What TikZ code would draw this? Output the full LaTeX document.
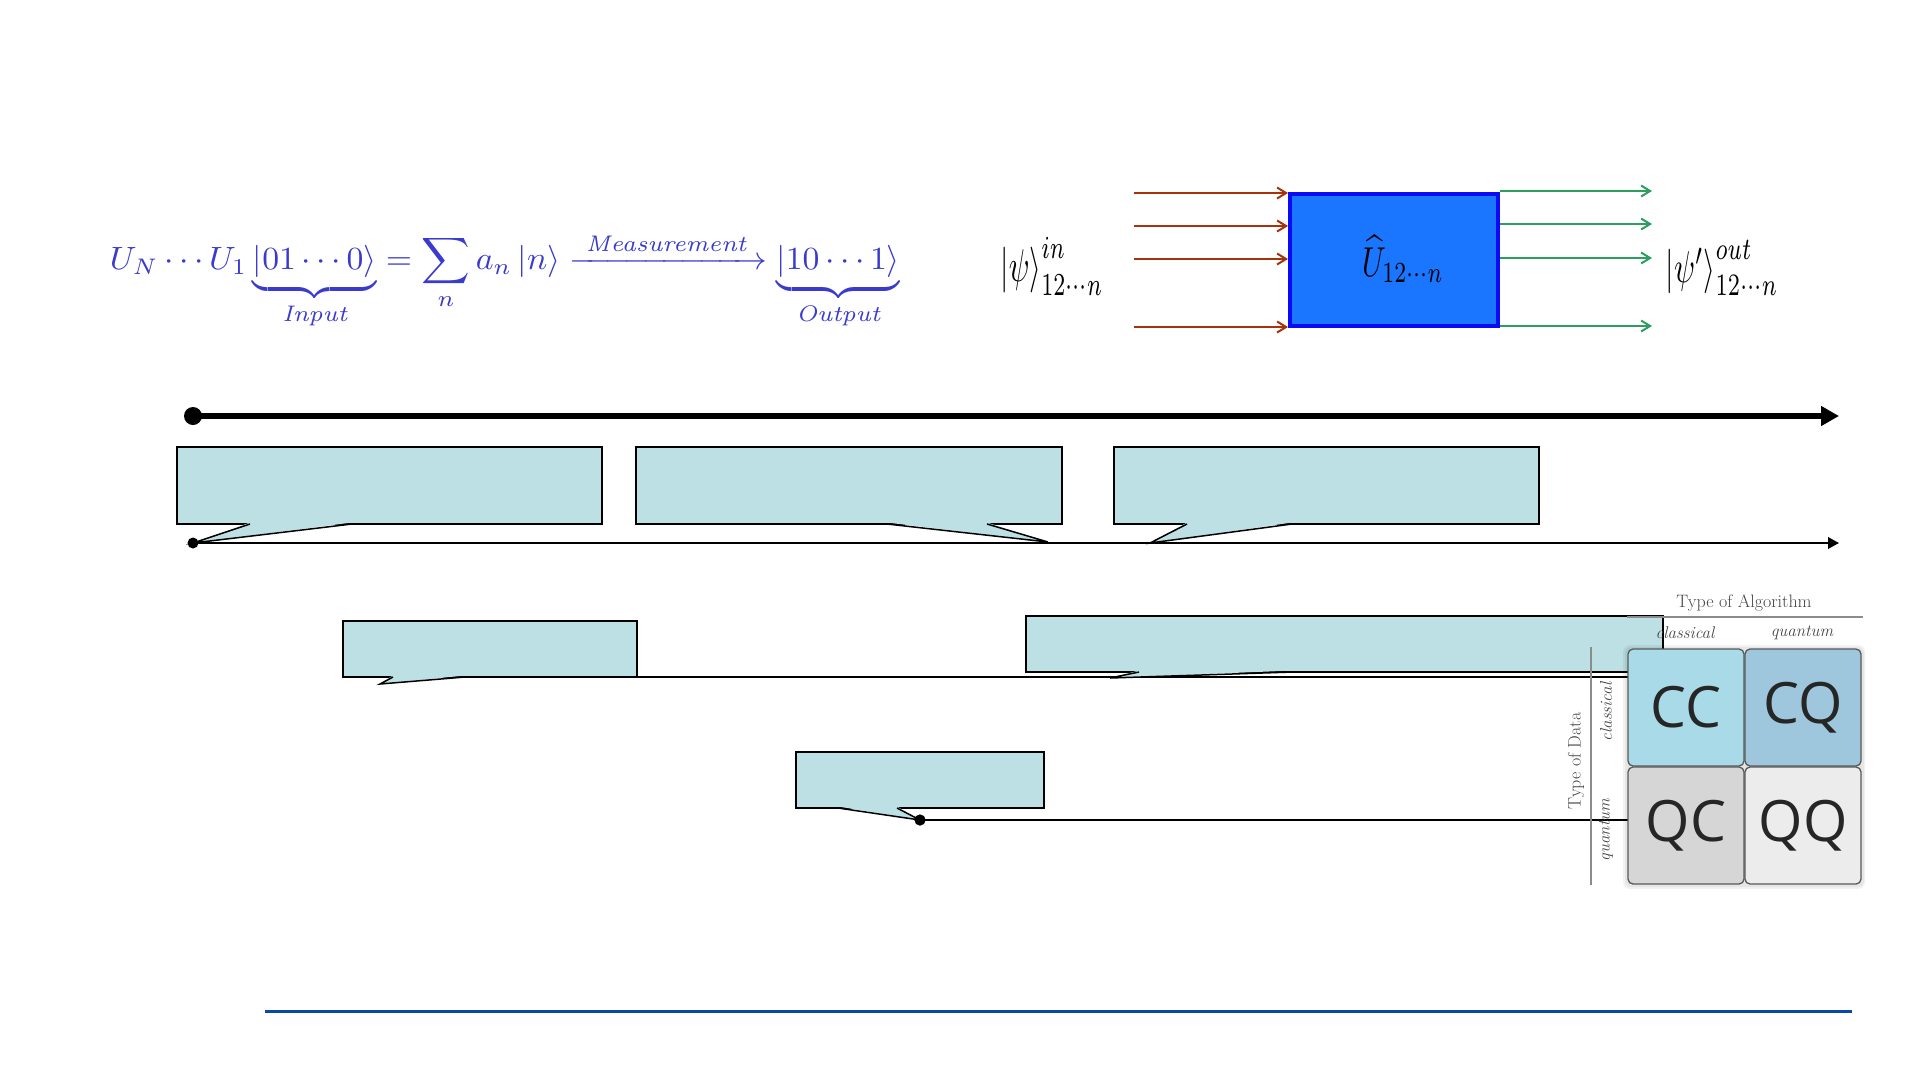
\documentclass[tikz,border=0pt]{standalone}
\usepackage{fontspec}
\usepackage{amsmath}
\usepackage{graphicx}
\usetikzlibrary{arrows.meta}
\newfontfamily\cellfont{Open Sans}
\definecolor{fblue}{RGB}{58,58,205}
\definecolor{ufill}{RGB}{26,117,255}
\definecolor{uedge}{RGB}{10,10,245}
\definecolor{brn}{RGB}{165,52,14}
\definecolor{grn}{RGB}{46,158,96}
\definecolor{callfill}{RGB}{188,224,228}
\definecolor{cellcc}{RGB}{168,218,231}
\definecolor{cellcq}{RGB}{158,198,220}
\definecolor{cellqc}{RGB}{214,214,214}
\definecolor{cellqq}{RGB}{236,236,236}
\definecolor{lineblue}{RGB}{10,72,170}
\definecolor{labgray}{RGB}{70,70,70}
\tikzset{
  calloutbox/.style={draw=black, line width=1.5pt, fill=callfill, inner sep=0pt},
  pointerfill/.style={fill=callfill},
  pointeredge/.style={draw=black, line width=1.5pt, line join=miter},
  thinline/.style={draw=black, line width=2pt},
  brnarrow/.style={draw=brn, line width=2.2pt, -{Straight Barb[length=9pt,width=11pt,line width=2pt]}},
  grnarrow/.style={draw=grn, line width=2.2pt, -{Straight Barb[length=9pt,width=11pt,line width=2pt]}},
  cell/.style={draw=black!65, line width=1.3pt, rounded corners=5pt, minimum width=116pt, minimum height=117pt, inner sep=0pt, text=black!85, font=\cellfont\fontsize{57}{60}\selectfont},
  lab/.style={text=labgray, inner sep=0pt, font=\fontsize{18}{20}\selectfont},
  slab/.style={text=labgray, inner sep=0pt, font=\itshape\fontsize{17}{19}\selectfont},
  grule/.style={draw=black!45, line width=2.5pt},
  dot/.style={circle, fill=black, inner sep=0pt}
}
\begin{document}
\begin{tikzpicture}[x=1pt,y=-1pt]
\useasboundingbox (0,0) rectangle (1921,1080);

% formula
\node[text=fblue, inner sep=0pt] (formula) at (505,281)
 {\resizebox*{790pt}{97pt}{$\displaystyle U_N\cdots U_1\underbrace{\left|01\cdots0\right\rangle}_{\textit{Input}}=\sum_n a_n\left|n\right\rangle\xrightarrow{\;\textit{Measurement}\;}\underbrace{\left|10\cdots1\right\rangle}_{\textit{Output}}$}};

% unitary box
\node[draw=uedge, line width=4pt, fill=ufill, minimum width=208pt, minimum height=132pt, inner sep=0pt] (U) at (1394,260) {};
\node[inner sep=0pt] (Ulab) at (1403,259) {\resizebox*{82pt}{47pt}{$\widehat{U}_{12\cdots n}$}};
\node[inner sep=0pt] (psiin) at (1052,266) {\resizebox*{103pt}{58pt}{$\left|\psi\right\rangle^{in}_{12\cdots n}$}};
\node[inner sep=0pt] (psiout) at (1722,268) {\resizebox*{113pt}{55pt}{$\left|\psi'\right\rangle^{out}_{12\cdots n}$}};

\coordinate (a1) at (1134,193);
\coordinate (a2) at (1134,226);
\coordinate (a3) at (1134,259);
\coordinate (a4) at (1134,327);
\foreach \p in {a1,a2,a3,a4} \draw[brnarrow] (\p) -- (\p -| U.west);
\coordinate (b1) at (1652,191);
\coordinate (b2) at (1652,224);
\coordinate (b3) at (1652,258);
\coordinate (b4) at (1652,326);
\foreach \p in {b1,b2,b3,b4} \draw[grnarrow] (\p -| U.east) -- (\p);

% timelines
\node[dot, minimum size=18pt] (d0) at (193,416) {};
\coordinate (t0) at (1839,416);
\draw[line width=6pt, -{Triangle[length=18pt,width=19pt]}] (d0.center) -- (t0);

\node[dot, minimum size=11pt] (d1) at (193,543) {};
\coordinate (t1) at (1839,543);
\draw[line width=2pt, -{Triangle[length=11pt,width=11.5pt]}] (d1.center) -- (t1);

\node[dot, minimum size=11pt] (d6) at (920,820) {};

% callouts
\node[calloutbox, minimum width=425pt, minimum height=77pt] (c1) at (389.5,485.5) {};
\fill[pointerfill] (250,522.5) -- (193,543) -- (352,522.5) -- cycle;
\draw[pointeredge] (250,524) -- (193,543) -- (352,524);

\node[calloutbox, minimum width=426pt, minimum height=77pt] (c2) at (849,485.5) {};
\fill[pointerfill] (887,522.5) -- (1048,542) -- (987,522.5) -- cycle;
\draw[pointeredge] (887,524) -- (1048,542) -- (987,524);

\node[calloutbox, minimum width=425pt, minimum height=77pt] (c3) at (1326.5,485.5) {};
\fill[pointerfill] (1187,522.5) -- (1150,543) -- (1292,522.5) -- cycle;
\draw[pointeredge] (1187,524) -- (1150,543) -- (1292,524);

\coordinate (e4) at (1628,677);
\coordinate (e6) at (1628,820);
\draw[thinline] (637,677) -- (e4);
\draw[thinline] (d6.center) -- (e6);

\node[calloutbox, minimum width=294pt, minimum height=56pt] (c4) at (490,649) {};
\fill[pointerfill] (393,675.5) -- (380,684) -- (465,675.5) -- cycle;
\draw[pointeredge] (393,677) -- (380,684) -- (465,677);

\node[calloutbox, minimum width=637pt, minimum height=56pt] (c5) at (1344.5,644) {};
\fill[pointerfill] (1139,670.5) -- (1110,678) -- (1293,670.5) -- cycle;
\draw[pointeredge] (1139,672) -- (1110,678) -- (1293,672);

\node[calloutbox, minimum width=248pt, minimum height=56pt] (c6) at (920,780) {};
\fill[pointerfill] (838,806.5) -- (920,820) -- (897,806.5) -- cycle;
\draw[pointeredge] (838,808) -- (920,820) -- (897,808);
\node[dot, minimum size=11pt] at (d6) {};

% matrix
\fill[black, opacity=0.05, rounded corners=7pt] (1623,645) rectangle (1865,889);
\fill[black, opacity=0.05, rounded corners=6pt] (1625,647) rectangle (1864,887);
\node[cell, fill=cellcc] (CC) at (1686,707.5) {CC};
\node[cell, fill=cellcq] (CQ) at (1803,707.5) {CQ};
\node[cell, fill=cellqc] (QC) at (1686,825.5) {QC};
\node[cell, fill=cellqq] (QQ) at (1803,825.5) {QQ};

\node[lab] (talg) at (1744,603) {Type of Algorithm};
\draw[grule] (1627,617) -- (1863,617);
\node[slab] (hcl) at (1685,633) {classical};
\node[slab] (hqu) at (1802,633) {quantum};
\draw[grule, line width=2pt] (1591,647) -- (1591,885);
\node[lab, rotate=90] (tdata) at (1576,761) {Type of Data};
\node[slab, rotate=90] (vcl) at (1606,712) {classical};
\node[slab, rotate=90] (vqu) at (1606,830) {quantum};

% bottom rule
\coordinate (r0) at (265,1011);
\coordinate (r1) at (1852,1011);
\draw[lineblue, line width=3pt] (r0) -- (r1);
\end{tikzpicture}
\end{document}
